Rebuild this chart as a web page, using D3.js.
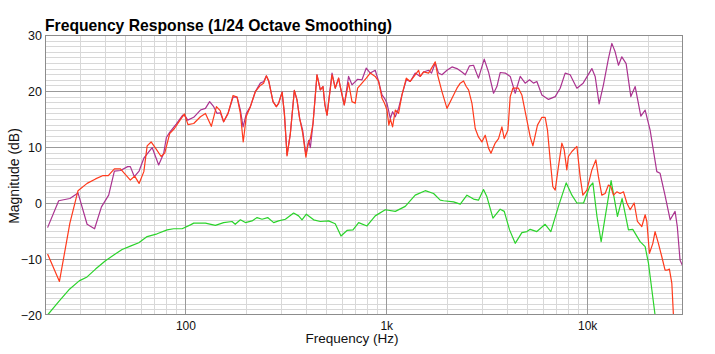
<!DOCTYPE html>
<html>
<head>
<meta charset="utf-8">
<script src="https://cdn.jsdelivr.net/npm/d3@7"></script>
<style>
  body { margin: 0; background: #fff; }
  svg { font-family: "Liberation Sans", Arial, Helvetica, sans-serif; }
</style>
</head>
<body>
<div id="chart"></div>
<script>
// values
const purpleFreq = [20.6, 23.4, 26.6, 29.2, 32.4, 35.3, 38.2, 41.5, 44.3, 47.5, 51.6, 53.2, 55.7, 58.8, 62.1, 68.3, 73.6, 78, 80.4, 83.5, 90, 97, 100, 102.7, 110, 118.8, 125.8, 132, 138.3, 143.8, 149.3, 155, 163, 172.7, 180.8, 187.8, 193.7, 201.2, 210.6, 223, 236, 245.4, 253, 259.7, 273, 283.6, 291, 302.9, 310.9, 320.6, 333, 348.5, 359.4, 370.4, 383.4, 398, 410.8, 418.8, 431.8, 451.9, 469.5, 484, 495, 507, 537, 557, 579, 590, 618, 649, 675, 720, 757, 795, 832, 881, 916, 952, 980, 1008, 1047, 1075, 1109, 1151, 1197, 1258, 1316, 1393, 1476, 1534, 1624, 1680, 1753, 1820, 1893, 2005, 2124, 2248, 2380, 2473, 2597, 2718, 2877, 3073, 3228, 3420, 3554, 3690, 3909, 4140, 4384, 4642, 4914, 5164, 5405, 5619, 5952, 6420, 6934, 7340, 7772, 8230, 8551, 8890, 9550, 10555, 10960, 11470, 12050, 12760, 13270, 13780, 14320, 14880, 15630, 16500, 17340, 18500, 19440, 20580, 22220, 23070, 24400, 25900, 27400, 28100, 29000, 30000];
const purpleDb = [-4.4, 0.4, 0.8, 1.8, -3.8, -4.6, -0.7, 1.4, 5.7, 5.8, 6.5, 6.5, 4.7, 5.7, 8.0, 9.9, 6.8, 8.9, 11.7, 12.6, 14.1, 15.7, 15.5, 14.8, 15.3, 16.6, 16.9, 18.1, 17.2, 16.0, 16.1, 14.5, 16.0, 18.9, 18.9, 16.6, 13.6, 16.0, 17.2, 19.9, 21.4, 21.7, 22.7, 21.8, 18.1, 17.2, 17.8, 19.8, 16.0, 8.6, 12.4, 20.1, 18.4, 15.1, 13.0, 8.6, 11.2, 9.9, 14.2, 22.9, 20.2, 20.8, 17.5, 15.7, 23.2, 20.5, 22.3, 20.8, 17.5, 22.6, 21.1, 22.1, 22.0, 24.1, 23.2, 23.7, 21.7, 19.3, 18.7, 17.8, 15.1, 16.3, 15.4, 16.9, 19.3, 22.0, 21.7, 23.2, 22.6, 23.4, 23.7, 23.2, 25.0, 23.2, 22.9, 23.7, 24.3, 24.0, 23.4, 22.9, 24.5, 24.6, 22.3, 25.7, 23.4, 19.6, 20.8, 23.3, 23.2, 22.6, 19.6, 22.6, 21.4, 22.0, 21.4, 21.7, 19.3, 18.5, 19.0, 20.5, 23.2, 22.9, 21.7, 20.5, 21.4, 24.0, 22.6, 17.7, 21.1, 25.8, 28.5, 27.0, 24.6, 26.1, 24.9, 19.0, 20.8, 15.5, 16.6, 13.0, 5.6, 5.3, 1.4, -3.0, -1.5, -4.2, -10.2, -11.4];

const redFreq = [20.6, 23.6, 26.6, 29.2, 32.4, 35.7, 38.9, 41.3, 44.3, 47.5, 53.2, 55.9, 58.8, 62.1, 64.5, 67.5, 71, 75.7, 78.9, 83.5, 88.2, 93.7, 98.9, 103, 110, 118.8, 125.8, 134.6, 142.7, 149, 155, 163, 172.7, 180.8, 187.8, 194, 201, 210.6, 223, 236, 245, 253, 260, 273, 283.6, 291, 303, 311, 320.6, 333, 348.5, 359.4, 370.4, 383.4, 398, 408, 418.8, 431.8, 451.9, 469.5, 484, 495, 507, 537, 557, 579, 590, 618, 649, 675, 700, 720, 757, 795, 832, 881, 916, 952, 980, 1008, 1030, 1047, 1075, 1109, 1151, 1197, 1258, 1316, 1448, 1476, 1534, 1624, 1753, 1800, 1893, 2005, 2124, 2248, 2335, 2425, 2500, 2568, 2670, 2772, 2877, 2992, 3108, 3228, 3319, 3486, 3621, 3763, 3866, 4032, 4140, 4268, 4550, 4731, 5012, 5205, 5368, 5658, 5952, 6180, 6346, 6546, 6745, 6934, 7194, 7482, 7685, 7921, 8066, 8395, 8890, 9228, 9520, 9966, 10555, 11050, 11380, 11830, 12290, 12760, 13120, 13520, 14050, 14590, 15170, 15760, 16370, 17140, 17790, 18710, 19440, 19820, 20420, 21230, 21780, 22630, 23530, 24430, 24920, 25670, 26390, 26880, 27600];
const redDb = [-9.1, -14.0, -3.6, 2.2, 3.5, 4.3, 4.9, 4.9, 6.1, 6.1, 4.1, 4.8, 3.5, 5.6, 10.2, 10.9, 9.8, 8.3, 8.9, 12.4, 13.3, 14.7, 15.9, 14.0, 14.2, 15.4, 16.0, 13.7, 17.2, 16.5, 14.5, 16.0, 19.2, 18.9, 16.0, 10.9, 15.5, 17.2, 19.9, 21.0, 21.4, 22.7, 21.8, 18.1, 17.2, 17.8, 19.8, 16.0, 8.4, 12.4, 20.1, 18.4, 15.1, 12.5, 8.2, 10.5, 11.5, 14.2, 22.9, 20.2, 20.8, 17.5, 15.7, 22.9, 20.5, 22.3, 20.8, 17.5, 21.5, 18.1, 17.8, 20.5, 21.4, 22.3, 23.2, 22.6, 21.7, 18.7, 17.8, 16.6, 13.9, 15.0, 13.6, 16.6, 16.0, 19.3, 22.3, 21.7, 23.7, 22.6, 23.4, 23.2, 25.2, 22.9, 19.9, 16.9, 18.7, 20.5, 21.4, 21.8, 20.8, 20.2, 17.8, 13.3, 11.8, 10.9, 12.1, 9.8, 8.9, 10.7, 11.5, 13.6, 11.5, 13.0, 19.0, 20.5, 20.5, 19.3, 14.8, 11.8, 10.2, 13.9, 15.3, 15.3, 13.0, 7.7, 2.9, 2.3, 6.5, 10.7, 9.5, 5.9, 8.3, 9.2, 10.1, 4.7, 1.4, 2.3, 5.9, 7.7, 4.7, 1.4, 1.7, 3.2, 2.9, 1.4, 2.0, 1.7, 2.0, 0.0, -1.2, 0.0, -3.3, -4.2, -2.1, -3.3, -9.0, -7.2, -5.1, -7.2, -9.6, -12.0, -12.0, -11.8, -14.3, -20, -23];

const greenFreq = [20.6, 23.4, 26.3, 29.6, 32.4, 35.7, 40, 44, 48.4, 53.2, 58.6, 64.5, 72.3, 81.1, 87.4, 96.3, 105.9, 110, 125.8, 141, 155, 170.7, 177, 187.8, 198.9, 214.6, 227.4, 240.7, 256.8, 275, 291, 314.5, 345.8, 366, 380.6, 400, 435, 469.5, 516, 557, 595, 637.5, 682.7, 728.5, 801.6, 881, 988.6, 1109, 1243, 1393, 1563, 1720, 1856, 1928, 2163, 2335, 2521, 2718, 2877, 3048, 3170, 3396, 3690, 3866, 4108, 4384, 4731, 5012, 5205, 5619, 6180, 6596, 7194, 7862, 8395, 8890, 9595, 10280, 10677, 11200, 11740, 13160, 14150, 14930, 16050, 16870, 18350, 19440, 20200, 21780, 22500];
const greenDb = [-20, -17.6, -15.5, -13.9, -13.2, -11.8, -10.3, -9.3, -8.3, -7.7, -7.1, -6.0, -5.5, -4.8, -4.6, -4.6, -3.9, -3.6, -3.6, -4.0, -3.5, -3.3, -3.8, -3.0, -3.5, -3.2, -2.6, -2.9, -2.6, -3.5, -3.2, -2.9, -1.8, -2.3, -3.0, -2.0, -3.0, -3.3, -3.2, -3.7, -5.9, -4.9, -4.8, -3.5, -4.1, -2.3, -1.2, -1.5, -0.6, 1.4, 2.2, 1.7, 0.5, 0.4, 0.2, -0.2, 1.4, 0.7, 0.5, 2.4, 1.1, -2.7, -1.1, -1.5, -4.8, -7.2, -5.3, -5.1, -4.7, -5.1, -3.8, -5.1, -0.6, 3.6, 1.4, 0.0, 0.0, 2.9, 3.6, -2.5, -6.9, 4.0, -2.4, 0.8, -4.8, -4.7, -6.9, -7.8, -10.8, -20, -23];

const majorFreqTicks = [100, 1000, 10000];
const freqTickLabels = ["100", "1k", "10k"];
const minorFreqTicks = [30, 40, 50, 60, 70, 80, 90, 200, 300, 400, 500, 600, 700, 800, 900,
  2000, 3000, 4000, 5000, 6000, 7000, 8000, 9000, 20000];
const dbTicks = [-20, -10, 0, 10, 20, 30];

const W = 715, H = 354;
const plot = { left: 45, right: 683, top: 35, bottom: 315 };

const svg = d3.select("#chart").append("svg")
  .attr("width", W)
  .attr("height", H);

const x = d3.scaleLog().domain([20, 30000]).range([plot.left, plot.right]);
const y = d3.scaleLinear().domain([-20, 30]).range([plot.bottom, plot.top]);

// white plot background
svg.append("rect")
  .attr("x", plot.left).attr("y", plot.top)
  .attr("width", plot.right - plot.left).attr("height", plot.bottom - plot.top)
  .attr("fill", "#fff");

const grid = svg.append("g");

// minor horizontal grid, every 1 dB
grid.append("g").selectAll("line")
  .data(d3.range(-19, 30).filter(d => d % 10 !== 0))
  .join("line")
  .attr("x1", plot.left).attr("x2", plot.right)
  .attr("y1", d => Math.round(y(d)) + 0.5).attr("y2", d => Math.round(y(d)) + 0.5)
  .attr("stroke", "#d8d8d8").attr("stroke-width", 1);

// minor vertical grid
grid.append("g").selectAll("line")
  .data(minorFreqTicks)
  .join("line")
  .attr("x1", d => Math.round(x(d)) + 0.5).attr("x2", d => Math.round(x(d)) + 0.5)
  .attr("y1", plot.top).attr("y2", plot.bottom)
  .attr("stroke", "#d8d8d8").attr("stroke-width", 1);

// major grid
grid.append("g").selectAll("line")
  .data([-10, 0, 10, 20])
  .join("line")
  .attr("x1", plot.left).attr("x2", plot.right)
  .attr("y1", d => Math.round(y(d)) + 0.5).attr("y2", d => Math.round(y(d)) + 0.5)
  .attr("stroke", "#9a9a9a").attr("stroke-width", 1);

grid.append("g").selectAll("line")
  .data(majorFreqTicks)
  .join("line")
  .attr("x1", d => Math.round(x(d)) + 0.5).attr("x2", d => Math.round(x(d)) + 0.5)
  .attr("y1", plot.top).attr("y2", plot.bottom)
  .attr("stroke", "#9a9a9a").attr("stroke-width", 1);

svg.append("defs").append("clipPath")
  .attr("id", "clip")
  .append("rect")
  .attr("x", plot.left).attr("y", plot.top)
  .attr("width", plot.right - plot.left).attr("height", plot.bottom - plot.top);

const line = d3.line()
  .x(d => x(d[0]))
  .y(d => y(d[1]));

const series = [
  { freq: purpleFreq, db: purpleDb, color: "#aa3390" },
  { freq: greenFreq, db: greenDb, color: "#2bd32b" },
  { freq: redFreq, db: redDb, color: "#ff3a1c" }
];

const lines = svg.append("g").attr("clip-path", "url(#clip)");
series.forEach(s => {
  lines.append("path")
    .datum(d3.zip(s.freq, s.db))
    .attr("d", line)
    .attr("fill", "none")
    .attr("stroke", s.color)
    .attr("stroke-width", 1.2)
    .attr("stroke-linejoin", "round");
});

// plot border
svg.append("rect")
  .attr("x", plot.left + 0.5).attr("y", plot.top + 0.5)
  .attr("width", plot.right - plot.left - 1).attr("height", plot.bottom - plot.top - 1)
  .attr("fill", "none")
  .attr("stroke", "#8c8c8c");

// axis labels through d3 axes
const xAxis = d3.axisBottom(x)
  .tickValues(majorFreqTicks)
  .tickFormat((d, i) => freqTickLabels[i])
  .tickSize(0)
  .tickPadding(6);
svg.append("g")
  .attr("transform", `translate(0,${plot.bottom})`)
  .call(xAxis)
  .call(g => g.select(".domain").remove())
  .selectAll("text")
  .attr("font-size", 12)
  .attr("font-family", "Liberation Sans, Arial, sans-serif")
  .attr("fill", "#111");

const yAxis = d3.axisLeft(y)
  .tickValues(dbTicks)
  .tickSize(0)
  .tickPadding(3);
svg.append("g")
  .attr("transform", `translate(${plot.left},0)`)
  .call(yAxis)
  .call(g => g.select(".domain").remove())
  .selectAll("text")
  .attr("font-size", 12.5)
  .attr("font-family", "Liberation Sans, Arial, sans-serif")
  .attr("fill", "#111");

svg.append("text")
  .attr("x", plot.left)
  .attr("y", 31)
  .attr("font-size", 15.7)
  .attr("font-weight", "bold")
  .attr("fill", "#000")
  .text("Frequency Response (1/24 Octave Smoothing)");

svg.append("text")
  .attr("x", 352)
  .attr("y", 343)
  .attr("text-anchor", "middle")
  .attr("font-size", 13.5)
  .attr("fill", "#111")
  .text("Frequency (Hz)");

svg.append("text")
  .attr("transform", "translate(19,176) rotate(-90)")
  .attr("text-anchor", "middle")
  .attr("font-size", 14)
  .attr("fill", "#111")
  .text("Magnitude (dB)");
</script>
</body>
</html>
